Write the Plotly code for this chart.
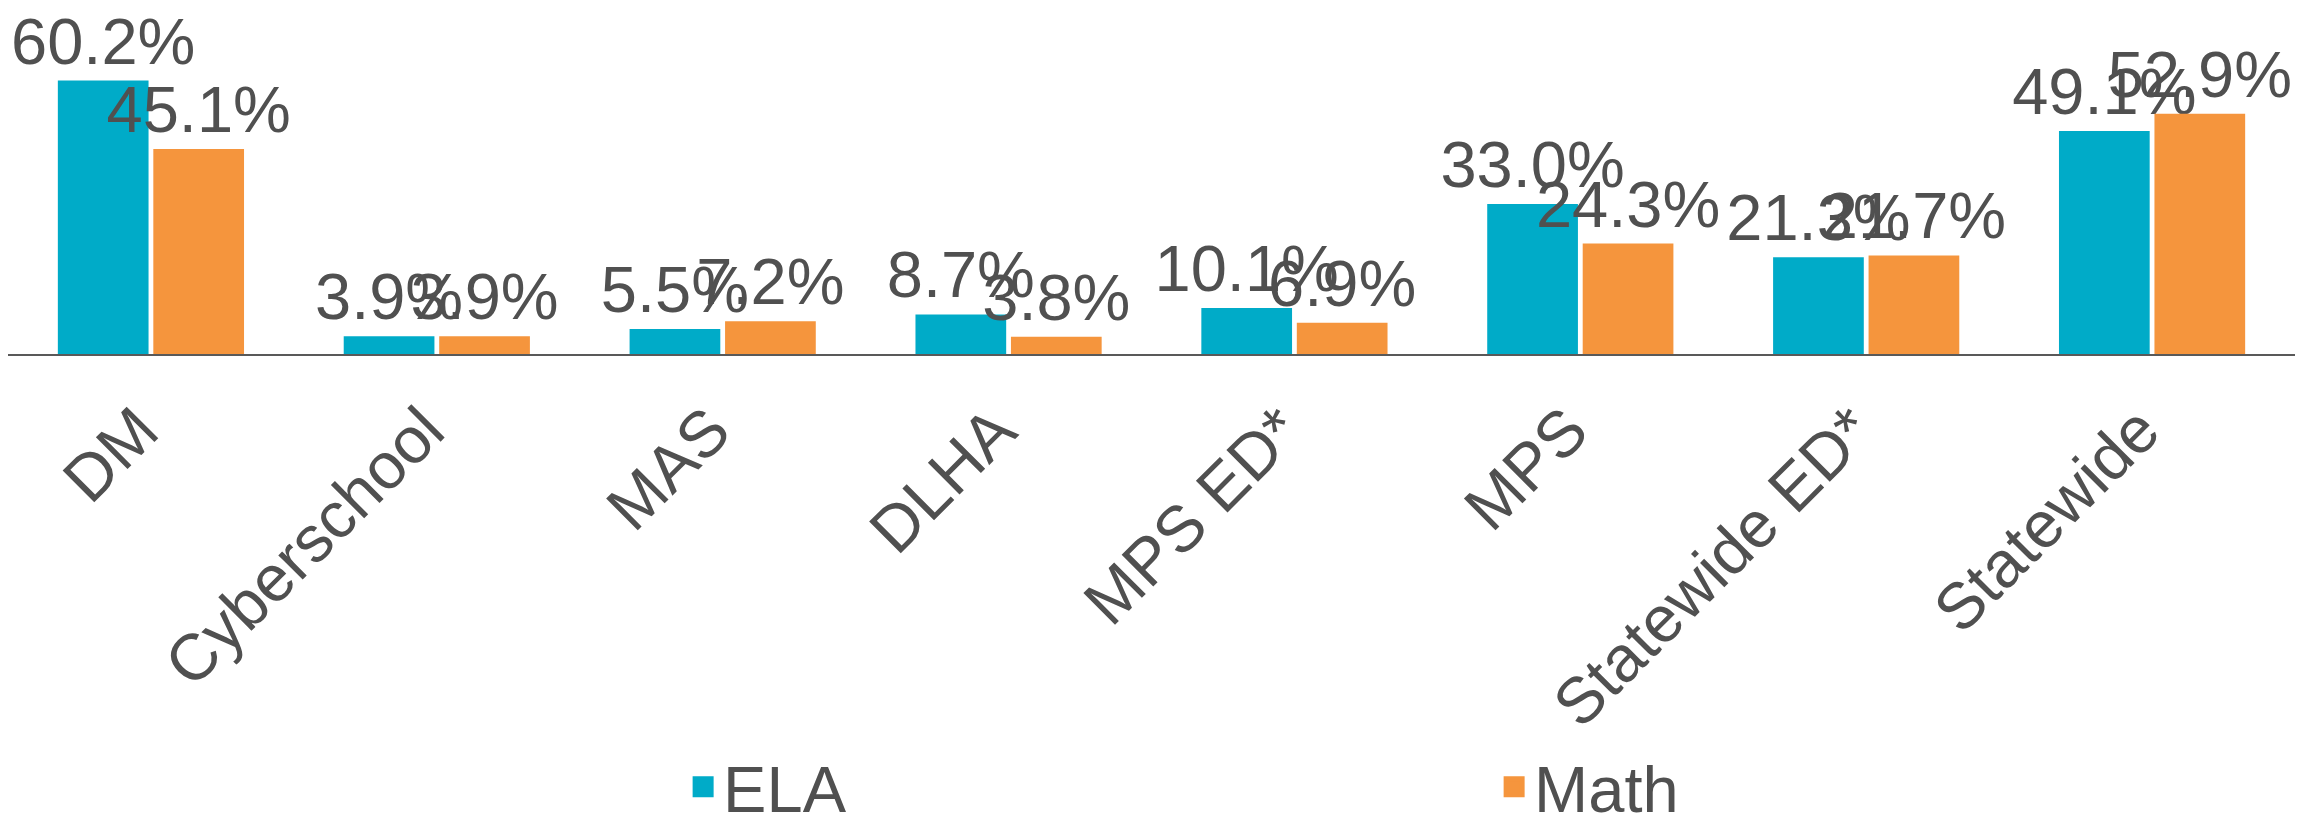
import plotly.graph_objects as go

categories = ["DM", "Cyberschool", "MAS", "DLHA", "MPS ED*", "MPS", "Statewide ED*", "Statewide"]
ela = [60.2, 3.9, 5.5, 8.7, 10.1, 33.0, 21.3, 49.1]
math_vals = [45.1, 3.9, 7.2, 3.8, 6.9, 24.3, 21.7, 52.9]

ELA_COLOR = "#00ABC8"
MATH_COLOR = "#F5953D"
TEXT_COLOR = "#505050"
FONT = "Liberation Sans, Arial, sans-serif"
FS = 65

fig = go.Figure()
for name, vals, col in [("ELA", ela, ELA_COLOR), ("Math", math_vals, MATH_COLOR)]:
    fig.add_trace(go.Bar(
        name=name, x=categories, y=vals,
        marker=dict(color=col, line=dict(width=0)),
        text=[f"{v:.1f}%" for v in vals],
        textposition="outside",
        constraintext="none",
        cliponaxis=False,
        textfont=dict(size=FS, color=TEXT_COLOR, family=FONT),
        showlegend=False,
    ))
    # legend entry with a larger square swatch
    fig.add_trace(go.Scatter(
        name=name, x=[None], y=[None], mode="markers",
        marker=dict(symbol="square", size=16, color=col, line=dict(color=col, width=5)),
        showlegend=True, hoverinfo="skip",
    ))

# page body has an 8px default margin, so the figure is sized to fit inside the window
fig.update_layout(
    width=2305, height=808,
    margin=dict(l=0, r=18, t=28, b=462, autoexpand=False),
    paper_bgcolor="white", plot_bgcolor="white",
    barmode="group", bargap=0.332, bargroupgap=0.05,
    font=dict(family=FONT, size=FS, color=TEXT_COLOR),
    showlegend=True,
    legend=dict(
        orientation="h", x=0.2952, xanchor="left", y=-1.2075, yanchor="top",
        font=dict(size=FS, color=TEXT_COLOR, family=FONT),
        entrywidth=766, entrywidthmode="pixels",
        itemsizing="trace",
        bgcolor="rgba(0,0,0,0)",
    ),
)
fig.update_xaxes(
    showline=True, linecolor="#595959", linewidth=2,
    tickangle=-45, ticks="", ticklabelstandoff=10, ticklabelshift=-12,
    tickfont=dict(size=FS, color=TEXT_COLOR, family=FONT),
    showgrid=False, automargin=False,
)
fig.update_yaxes(range=[0, 70], visible=False, showgrid=False, zeroline=False)

fig.write_html("out.html")
